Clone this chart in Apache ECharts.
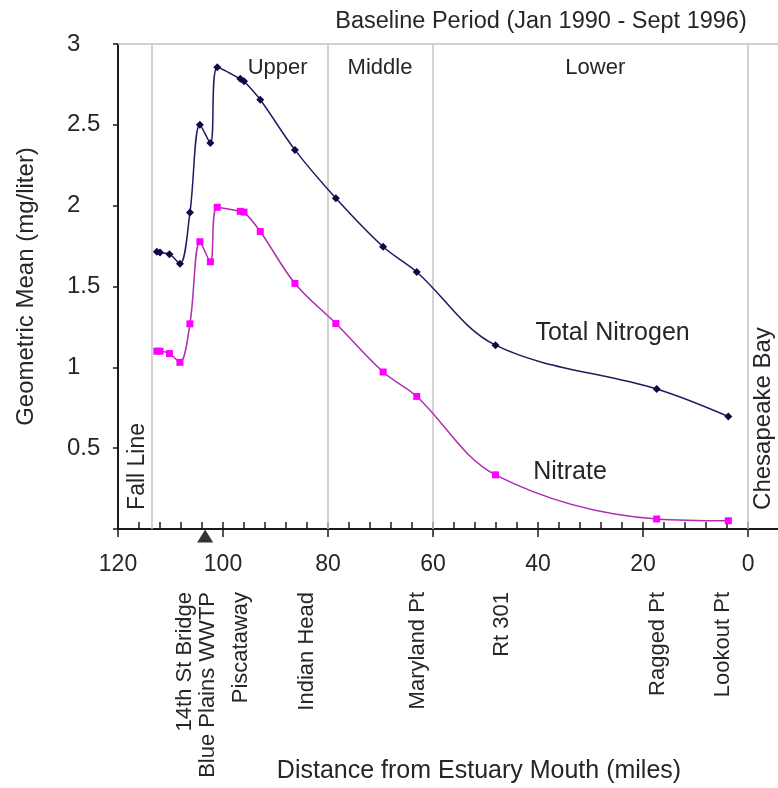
<!DOCTYPE html>
<html><head><meta charset="utf-8">
<script src="https://cdn.jsdelivr.net/npm/echarts@6/dist/echarts.min.js"></script>
<style>html,body{margin:0;padding:0;background:#fff}#c{width:778px;height:788px}</style>
</head><body><div id="c"></div>
<script>
// ---- data ----
const sampleMiles   = [112.6, 112.0, 110.2, 108.2, 106.3, 104.4, 102.4, 101.1, 96.7, 96.0, 92.9, 86.3, 78.5, 69.5, 63.1, 48.1, 17.4, 3.75];
const totalNitrogen = [1.715, 1.71, 1.70, 1.64, 1.957, 2.50, 2.387, 2.856, 2.785, 2.77, 2.655, 2.345, 2.046, 1.746, 1.59, 1.137, 0.866, 0.696];
const nitrate       = [1.10, 1.10, 1.085, 1.031, 1.269, 1.777, 1.653, 1.99, 1.965, 1.96, 1.84, 1.519, 1.271, 0.971, 0.82, 0.335, 0.062, 0.051];
const boundaryMiles = [113.5, 80, 60, 0];
const xMajorTicks   = [0, 20, 40, 60, 80, 100, 120];
const xMinorTicks   = [0, 4, 8, 12, 16, 20, 24, 28, 32, 36, 40, 44, 48, 52, 56, 60, 64, 68, 72, 76, 80, 84, 88, 92, 96, 100, 104, 108, 112, 116, 120];
const stationNames  = ['14th St Bridge', 'Blue Plains WWTP', 'Piscataway', 'Indian Head', 'Maryland Pt', 'Rt 301', 'Ragged Pt', 'Lookout Pt'];
const stationMiles  = [107.2, 102.9, 96.6, 84.1, 62.8, 46.9, 17.1, 4.8];
const wwtpMile      = 103.4;
const regionNames   = ['Upper', 'Middle', 'Lower'];
const regionMiles   = [89.6, 70.1, 29.1];

const FONT = "'Liberation Sans', Arial, sans-serif";
const TXT = '#262626';
const AX = '#1a1a1a';
const GRID_GREY = '#c4c4c4';

const chart = echarts.init(document.getElementById('c'), null, {renderer: 'canvas'});
const tnData = sampleMiles.map((m, i) => [m, totalNitrogen[i]]);
const no3Data = sampleMiles.map((m, i) => [m, nitrate[i]]);

const xBase = {type: 'value', min: -5.71, max: 120, inverse: true, splitLine: {show: false}};

chart.setOption({
  animation: false,
  backgroundColor: '#fff',
  title: {
    text: 'Baseline Period (Jan 1990 - Sept 1996)',
    left: 541, top: 10, textAlign: 'center', padding: 0,
    textStyle: {fontFamily: FONT, fontSize: 23.5, fontWeight: 'normal', color: TXT}
  },
  grid: {left: 118, right: 0, top: 44, bottom: 259, containLabel: false, outerBoundsMode: 'none'},
  xAxis: [
    Object.assign({}, xBase, {
      position: 'bottom',
      axisLine: {show: true, onZero: false, lineStyle: {color: AX, width: 2}},
      axisTick: {show: true, inside: true, length: 7, customValues: xMinorTicks, lineStyle: {color: AX, width: 1.5}},
      axisLabel: {show: true, customValues: xMajorTicks, margin: 24, fontSize: 23, fontFamily: FONT, color: TXT},
      name: 'Distance from Estuary Mouth (miles)', nameLocation: 'middle', nameGap: 230,
      nameTextStyle: {fontSize: 25, fontFamily: FONT, color: TXT, padding: [0, 0, 0, 62]}
    }),
    Object.assign({}, xBase, {
      position: 'bottom',
      axisLine: {show: false, onZero: false},
      axisTick: {show: true, inside: false, length: 8, customValues: xMajorTicks, lineStyle: {color: AX, width: 1.5}},
      axisLabel: {show: false}
    }),
    Object.assign({}, xBase, {
      position: 'top',
      axisLine: {show: true, onZero: false, lineStyle: {color: GRID_GREY, width: 1.5}},
      axisTick: {show: false}, axisLabel: {show: false}
    })
  ],
  yAxis: {
    type: 'value', min: 0, max: 3, interval: 0.5, position: 'left',
    axisLine: {show: true, onZero: false, lineStyle: {color: AX, width: 2}},
    axisTick: {show: true, length: 5, lineStyle: {color: AX, width: 1.5}},
    axisLabel: {align: 'left', margin: 51, fontSize: 24, fontFamily: FONT, color: TXT,
      formatter: v => (v === 0 ? '' : String(v))},
    splitLine: {show: false},
    name: 'Geometric Mean (mg/liter)', nameLocation: 'middle', nameGap: 80,
    nameTextStyle: {fontSize: 24, fontFamily: FONT, color: TXT}
  },
  series: [
    {
      name: 'Total Nitrogen', type: 'line', data: tnData, smooth: 0.35,
      symbol: 'diamond', symbolSize: 8, showSymbol: true,
      lineStyle: {color: '#1c1c5e', width: 1.5},
      itemStyle: {color: '#0c0c44'},
      z: 5,
      markLine: {
        silent: true, symbol: 'none', label: {show: false}, animation: false,
        lineStyle: {color: GRID_GREY, width: 1.5, type: 'solid'},
        data: boundaryMiles.map(m => ({xAxis: m}))
      }
    },
    {
      name: 'Nitrate', type: 'line', data: no3Data, smooth: 0.35,
      symbol: 'rect', symbolSize: 7, showSymbol: true,
      lineStyle: {color: '#b02cb0', width: 1.5},
      itemStyle: {color: '#ff00ff'},
      z: 5
    },
    {
      name: 'WWTP', type: 'scatter', data: [[wwtpMile, 0]], clip: false,
      symbol: 'triangle', symbolSize: [16, 13], symbolOffset: [0, 7],
      itemStyle: {color: '#000'}, z: 10, silent: true
    }
  ]
});

function px(mile, val) {
  return chart.convertToPixel({xAxisIndex: 0, yAxisIndex: 0}, [mile, val]);
}
const txtStyle = (text, size, align, valign) => ({
  text, fontSize: size, fontFamily: FONT, fill: TXT, align, verticalAlign: valign
});
const graphics = [];
const axisY = px(0, 0)[1];
stationNames.forEach((name, i) => {
  const p = px(stationMiles[i], 0);
  graphics.push({type: 'text', x: p[0], y: axisY + 63, rotation: Math.PI / 2,
    style: txtStyle(name, 22, 'right', 'middle'), silent: true});
});
regionNames.forEach((name, i) => {
  const p = px(regionMiles[i], 2.85);
  graphics.push({type: 'text', x: p[0], y: p[1], style: txtStyle(name, 22, 'center', 'middle'), silent: true});
});
(function () {
  let p = px(25.8, 1.21);
  graphics.push({type: 'text', x: p[0], y: p[1], style: txtStyle('Total Nitrogen', 25, 'center', 'middle'), silent: true});
  p = px(33.9, 0.353);
  graphics.push({type: 'text', x: p[0], y: p[1], style: txtStyle('Nitrate', 25, 'center', 'middle'), silent: true});
  p = px(116.2, 0.118);
  graphics.push({type: 'text', x: p[0], y: p[1], rotation: Math.PI / 2, style: txtStyle('Fall Line', 23, 'left', 'middle'), silent: true});
  p = px(-2.86, 0.118);
  graphics.push({type: 'text', x: p[0], y: p[1], rotation: Math.PI / 2, style: txtStyle('Chesapeake Bay', 24, 'left', 'middle'), silent: true});
})();
chart.setOption({graphic: graphics});
</script>
</body></html>
